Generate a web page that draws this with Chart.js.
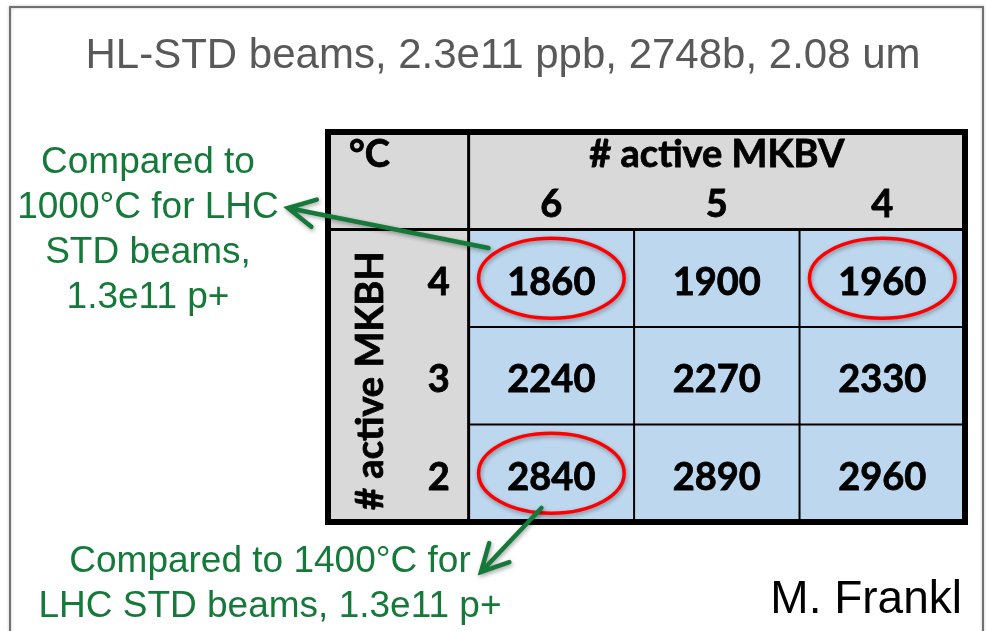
<!DOCTYPE html>
<html>
<head>
<meta charset="utf-8">
<script src="https://cdn.jsdelivr.net/npm/chart.js@4.4.1/dist/chart.umd.min.js"></script>
<style>
  html, body { margin: 0; padding: 0; background: #fff; }
  #wrap { position: relative; width: 986px; height: 631px; }
</style>
</head>
<body>
<div id="wrap"><canvas id="tbl"></canvas></div>
<script>
// ---------------------------------------------------------------------------
// Data
// ---------------------------------------------------------------------------
const TITLE = "HL-STD beams, 2.3e11 ppb, 2748b, 2.08 um";
const UNIT = "°C";
const COL_HEADER = "# active MKBV";
const ROW_HEADER = "# active MKBH";
const mkbvCounts = ["6", "5", "4"];          // columns
const mkbhCounts = ["4", "3", "2"];          // rows
const tempMkbh4 = [1860, 1900, 1960];
const tempMkbh3 = [2240, 2270, 2330];
const tempMkbh2 = [2840, 2890, 2960];
const circledCells = [[0, 0], [0, 2], [2, 0]];   // [row, col]
const noteTop = ["Compared to", "1000°C for LHC", "STD beams,", "1.3e11 p+"];
const noteBottom = ["Compared to 1400°C for", "LHC STD beams, 1.3e11 p+"];
const AUTHOR = "M. Frankl";

const tempRows = [tempMkbh4, tempMkbh3, tempMkbh2];

// ---------------------------------------------------------------------------
// Styling
// ---------------------------------------------------------------------------
const INK = "#000";
const HEAD_GREY = "#d9d9d9";
const CELL_BLUE = "#bdd7ee";
const NOTE_GREEN = "#15793a";
const TABLE_FONT = "Lato, 'Open Sans', sans-serif";
const SLIDE_FONT = "'Liberation Sans', Arial, sans-serif";
const HEAD_LEFT = -0.85;   // row-header column is a bit narrower than a data column

const line = (ctx, x1, y1, x2, y2) => {
  ctx.beginPath(); ctx.moveTo(x1, y1); ctx.lineTo(x2, y2); ctx.stroke();
};

// heavy = extra outline so Lato bold looks closer to the slide's Calibri bold
function text(ctx, str, x, y, font, color, align = "center", heavy = 0) {
  ctx.font = font;
  ctx.fillStyle = color;
  ctx.textAlign = align;
  ctx.textBaseline = "alphabetic";
  ctx.fillText(str, x, y);
  if (heavy) {
    ctx.lineWidth = heavy;
    ctx.strokeStyle = color;
    ctx.strokeText(str, x, y);
  }
}

function arrow(ctx, [x1, y1], [x2, y2]) {
  const a = Math.atan2(y1 - y2, x1 - x2);
  const len = 30, spread = 0.48;
  ctx.beginPath();
  ctx.moveTo(x1, y1);
  ctx.lineTo(x2, y2);
  ctx.moveTo(x2 + len * Math.cos(a - spread), y2 + len * Math.sin(a - spread));
  ctx.lineTo(x2, y2);
  ctx.lineTo(x2 + len * Math.cos(a + spread), y2 + len * Math.sin(a + spread));
  ctx.stroke();
}

const withShadow = ctx => {
  ctx.shadowColor = "rgba(0,0,0,0.35)";
  ctx.shadowBlur = 4;
  ctx.shadowOffsetX = 1;
  ctx.shadowOffsetY = 2;
};

// ---------------------------------------------------------------------------
// Table chrome: header fills, grid, labels, circles, notes
// ---------------------------------------------------------------------------
const tableDecor = {
  id: "tableDecor",
  beforeDraw(chart) {
    const { ctx, scales: { x, y } } = chart;
    const L = x.getPixelForValue(HEAD_LEFT), R = x.getPixelForValue(mkbvCounts.length);
    const T = y.getPixelForValue(-1), B = y.getPixelForValue(mkbhCounts.length);
    const x0 = x.getPixelForValue(0), y0 = y.getPixelForValue(0);

    ctx.save();
    ctx.fillStyle = "#fff";
    ctx.fillRect(0, 0, chart.width, chart.height);

    // slide frame
    ctx.strokeStyle = "#707070";
    ctx.lineWidth = 2;
    ctx.shadowColor = "rgba(0,0,0,0.25)";
    ctx.shadowBlur = 3;
    ctx.strokeRect(10, 7, 973, 700);
    ctx.shadowColor = "transparent";

    ctx.fillStyle = HEAD_GREY;
    ctx.fillRect(L, T, R - L, y0 - T);
    ctx.fillRect(L, y0, x0 - L, B - y0);
    ctx.restore();
  },

  afterDatasetsDraw(chart) {
    const { ctx, scales: { x, y } } = chart;
    const nCol = mkbvCounts.length, nRow = mkbhCounts.length;
    const L = x.getPixelForValue(HEAD_LEFT), R = x.getPixelForValue(nCol);
    const T = y.getPixelForValue(-1), B = y.getPixelForValue(nRow);
    const x0 = x.getPixelForValue(0), y0 = y.getPixelForValue(0);

    ctx.save();
    ctx.strokeStyle = INK;

    // grid
    ctx.lineWidth = 2;
    for (let c = 1; c < nCol; c++) line(ctx, x.getPixelForValue(c), y0, x.getPixelForValue(c), B);
    for (let r = 1; r < nRow; r++) line(ctx, x0, y.getPixelForValue(r), R, y.getPixelForValue(r));
    ctx.lineWidth = 3;
    line(ctx, x0, T, x0, B);
    line(ctx, L, y0, R, y0);
    ctx.lineWidth = 6;
    ctx.strokeRect(L, T, R - L, B - T);

    // headers
    const bold = `bold 38px ${TABLE_FONT}`;
    const heavy = 0.8;
    text(ctx, UNIT, x.getPixelForValue(-0.6), y.getPixelForValue(-0.64), bold, INK, "center", heavy);
    text(ctx, COL_HEADER, x.getPixelForValue(nCol / 2), y.getPixelForValue(-0.64), bold, INK, "center", heavy);
    mkbvCounts.forEach((lab, c) =>
      text(ctx, lab, x.getPixelForValue(c + 0.5), y.getPixelForValue(-0.13), bold, INK, "center", heavy));
    mkbhCounts.forEach((lab, r) =>
      text(ctx, lab, x.getPixelForValue(-0.18), y.getPixelForValue(r + 0.67), bold, INK, "center", heavy));

    ctx.save();
    ctx.translate(x.getPixelForValue(-0.52), y.getPixelForValue(nRow / 2 + 0.05));
    ctx.rotate(-Math.PI / 2);
    text(ctx, ROW_HEADER, 0, 0, bold, INK, "center", heavy);
    ctx.restore();

    // cell values
    tempRows.forEach((temps, r) => temps.forEach((t, c) =>
      text(ctx, String(t), x.getPixelForValue(c + 0.5), y.getPixelForValue(r + 0.67), bold, INK, "center", heavy)));

    // red circles
    const colW = x.getPixelForValue(1) - x.getPixelForValue(0);
    const rowH = y.getPixelForValue(1) - y.getPixelForValue(0);
    ctx.save();
    withShadow(ctx);
    ctx.strokeStyle = "#ff0000";
    ctx.lineWidth = 3.5;
    circledCells.forEach(([r, c]) => {
      ctx.beginPath();
      ctx.ellipse(x.getPixelForValue(c + 0.5), y.getPixelForValue(r + 0.5),
                  colW * 0.44, rowH * 0.41, 0, 0, Math.PI * 2);
      ctx.stroke();
    });

    // green arrows
    ctx.strokeStyle = NOTE_GREEN;
    ctx.lineWidth = 4.5;
    ctx.lineCap = "round";
    ctx.lineJoin = "miter";
    arrow(ctx, [x.getPixelForValue(0.12), y.getPixelForValue(0.19)], [288, 208]);
    arrow(ctx, [x.getPixelForValue(0.44), y.getPixelForValue(2.856)], [481, 572]);
    ctx.restore();

    // notes, title, author
    const note = `37px ${SLIDE_FONT}`;
    noteTop.forEach((s, i) => text(ctx, s, 148, 173 + 45 * i, note, NOTE_GREEN));
    noteBottom.forEach((s, i) => text(ctx, s, 270, 572 + 45 * i, note, NOTE_GREEN));
    text(ctx, TITLE, 503, 68, `42px ${SLIDE_FONT}`, "#595959");
    text(ctx, AUTHOR, 962, 613, `46px ${SLIDE_FONT}`, INK, "right");
    ctx.restore();
  },
};

// ---------------------------------------------------------------------------
// Chart: one floating-bar dataset per MKBH row, bars are the table cells
// ---------------------------------------------------------------------------
const datasets = tempRows.map((temps, r) => ({
  label: `${mkbhCounts[r]} active MKBH`,
  data: temps.map((t, c) => ({ x: c + 0.5, y: [r, r + 1] })),
  backgroundColor: CELL_BLUE,
  borderWidth: 0,
  barPercentage: 1,
  categoryPercentage: 1,
  grouped: false,
}));

new Chart(document.getElementById("tbl"), {
  type: "bar",
  data: { datasets },
  options: {
    responsive: true,
    maintainAspectRatio: false,
    animation: false,
    events: [],
    layout: { padding: { left: 328, right: 21, top: 132, bottom: 109 } },
    scales: {
      x: {
        type: "linear", display: false, offset: false,
        min: HEAD_LEFT, max: mkbvCounts.length,
        afterBuildTicks: s => { s.ticks = mkbvCounts.map((_, i) => ({ value: i })).concat({ value: mkbvCounts.length }); },
      },
      y: {
        type: "linear", display: false, reverse: true,
        min: -1, max: mkbhCounts.length,
      },
    },
    plugins: {
      legend: { display: false },
      tooltip: { enabled: false },
      title: { display: false },
    },
  },
  plugins: [tableDecor],
});
</script>
</body>
</html>
